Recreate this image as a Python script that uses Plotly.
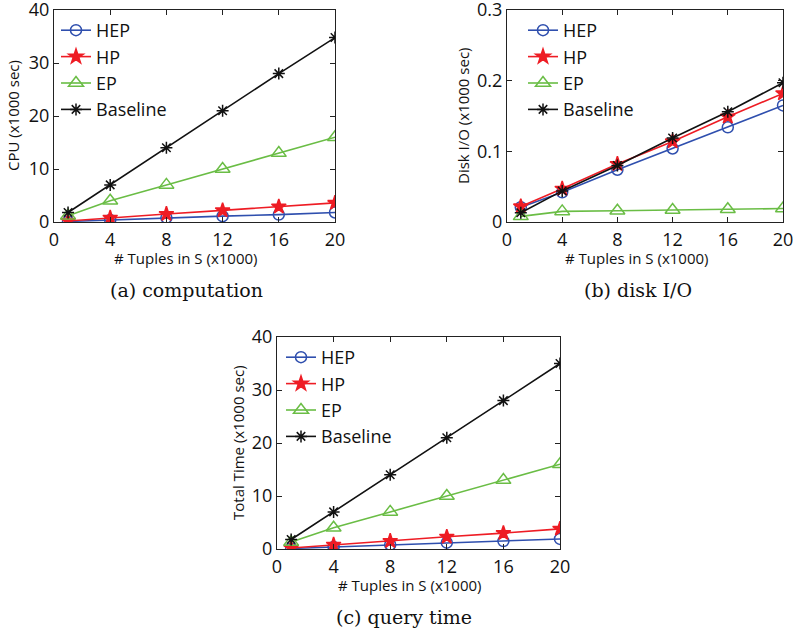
import plotly.graph_objects as go

x_vals = [1, 4, 8, 12, 16, 20]
series_names = ["HEP", "HP", "EP", "Baseline"]

cpu_hep = [0.1, 0.4, 0.8, 1.1, 1.4, 1.8]
cpu_hp = [0.2, 0.8, 1.5, 2.2, 2.9, 3.6]
cpu_ep = [1.2, 4.0, 7.0, 10.0, 13.0, 16.0]
cpu_base = [1.8, 7.0, 14.0, 21.0, 28.0, 34.8]

io_hep = [0.021, 0.042, 0.074, 0.104, 0.134, 0.165]
io_hp = [0.022, 0.047, 0.082, 0.114, 0.149, 0.182]
io_ep = [0.008, 0.015, 0.016, 0.017, 0.018, 0.019]
io_base = [0.013, 0.044, 0.080, 0.119, 0.156, 0.197]

tot_hep = [0.1, 0.4, 0.8, 1.2, 1.5, 1.9]
tot_hp = [0.2, 0.8, 1.5, 2.3, 3.0, 3.8]
tot_ep = [1.3, 4.0, 7.0, 10.0, 13.0, 16.0]
tot_base = [1.8, 7.0, 14.0, 21.0, 28.0, 35.0]

x_ticks = [0, 4, 8, 12, 16, 20]
y_ticks_time = [0, 10, 20, 30, 40]
y_ticks_io = [0, 0.1, 0.2, 0.3]
y_ticklabels_io = ["0", "0.1", "0.2", "0.3"]

captions = ["(a) computation", "(b) disk I/O", "(c) query time"]
x_title = "# Tuples in S (x1000)"
y_titles = ["CPU (x1000 sec)", "Disk I/O (x1000 sec)", "Total Time (x1000 sec)"]

W, H = 794, 632
SANS = "Open Sans"
SERIF = "DejaVu Serif"


def px(v):
    return v / W


def py(v):
    return 1 - v / H


styles = {
    "HEP": dict(color="#2f4fae", symbol="circle-open", size=11),
    "HP": dict(color="#ee1c24", symbol="star", size=11),
    "EP": dict(color="#6abd45", symbol="triangle-up-open", size=13),
    "Baseline": dict(color="#111111", symbol="asterisk-open", size=10),
}

panels = [
    dict(data=[cpu_hep, cpu_hp, cpu_ep, cpu_base], box=(54, 335, 10, 222), legend="legend",
         leg_x=56, ytitle_x=13, xtitle_cx=185.5, cap_cx=186.5),
    dict(data=[io_hep, io_hp, io_ep, io_base], box=(507, 783, 10, 222), legend="legend2",
         leg_x=523, ytitle_x=463, xtitle_cx=636.7, cap_cx=637.5),
    dict(data=[tot_hep, tot_hp, tot_ep, tot_base], box=(277, 560, 337, 549), legend="legend3",
         leg_x=281, ytitle_x=238, xtitle_cx=410, cap_cx=404),
]

fig = go.Figure()
layout = dict(width=W, height=H, margin=dict(l=0, r=0, t=0, b=0, autoexpand=False),
              paper_bgcolor="white", plot_bgcolor="white", annotations=[])

for i, p in enumerate(panels):
    xa = "x" if i == 0 else f"x{i+1}"
    ya = "y" if i == 0 else f"y{i+1}"
    for name, vals in zip(series_names, p["data"]):
        st = styles[name]
        fig.add_trace(go.Scatter(
            x=x_vals, y=vals, name=name, mode="lines+markers",
            xaxis=xa, yaxis=ya, legend=p["legend"], legendgroup=f"{p['legend']}_{name}",
            line=dict(color=st["color"], width=1.6),
            marker=dict(symbol=st["symbol"], size=st["size"], color=st["color"],
                        line=dict(color=st["color"], width=1.5)),
        ))
    l, r, t, b = p["box"]
    axcommon = dict(showline=True, mirror="allticks", linecolor="#222", linewidth=1.2,
                    ticks="inside", ticklen=5, tickcolor="#222", showgrid=False, zeroline=False,
                    ticklabeloverflow="allow",
                    tickfont=dict(family=SANS, size=18, color="#111"))
    xkey = "xaxis" if i == 0 else f"xaxis{i+1}"
    ykey = "yaxis" if i == 0 else f"yaxis{i+1}"
    layout[xkey] = dict(domain=[px(l), px(r)], anchor=ya, range=[0, 20],
                        tickvals=x_ticks, ticklabelstandoff=1, **axcommon)
    if i == 1:
        layout[ykey] = dict(domain=[py(b), py(t)], anchor=xa, range=[0, 0.3],
                            tickvals=y_ticks_io, ticktext=y_ticklabels_io, **axcommon)
    else:
        layout[ykey] = dict(domain=[py(b), py(t)], anchor=xa, range=[0, 40],
                            tickvals=y_ticks_time, **axcommon)
    layout[p["legend"]] = dict(x=px(p["leg_x"]), y=py(t + 2), xanchor="left", yanchor="top",
                               bgcolor="rgba(0,0,0,0)", traceorder="grouped", tracegroupgap=0,
                               font=dict(family=SANS, size=18, color="#111"))
    layout["annotations"].append(dict(text=x_title, x=px(p["xtitle_cx"]), y=py(b + 36),
                                      xref="paper", yref="paper",
                                      showarrow=False, xanchor="center", yanchor="middle",
                                      font=dict(family=SANS, size=15, color="#111")))
    layout["annotations"].append(dict(text=y_titles[i], x=px(p["ytitle_x"]), y=py((t + b) / 2),
                                      xref="paper", yref="paper", textangle=-90,
                                      showarrow=False, xanchor="center", yanchor="middle",
                                      font=dict(family=SANS, size=15, color="#111")))
    layout["annotations"].append(dict(text=captions[i], x=px(p["cap_cx"]), y=py(b + 68),
                                      xref="paper", yref="paper",
                                      showarrow=False, xanchor="center", yanchor="middle",
                                      font=dict(family=SERIF, size=19, color="#111")))

fig.update_layout(**layout)
fig.write_html("out.html", config={"displayModeBar": False},
               post_script="document.body.style.margin='0';")
